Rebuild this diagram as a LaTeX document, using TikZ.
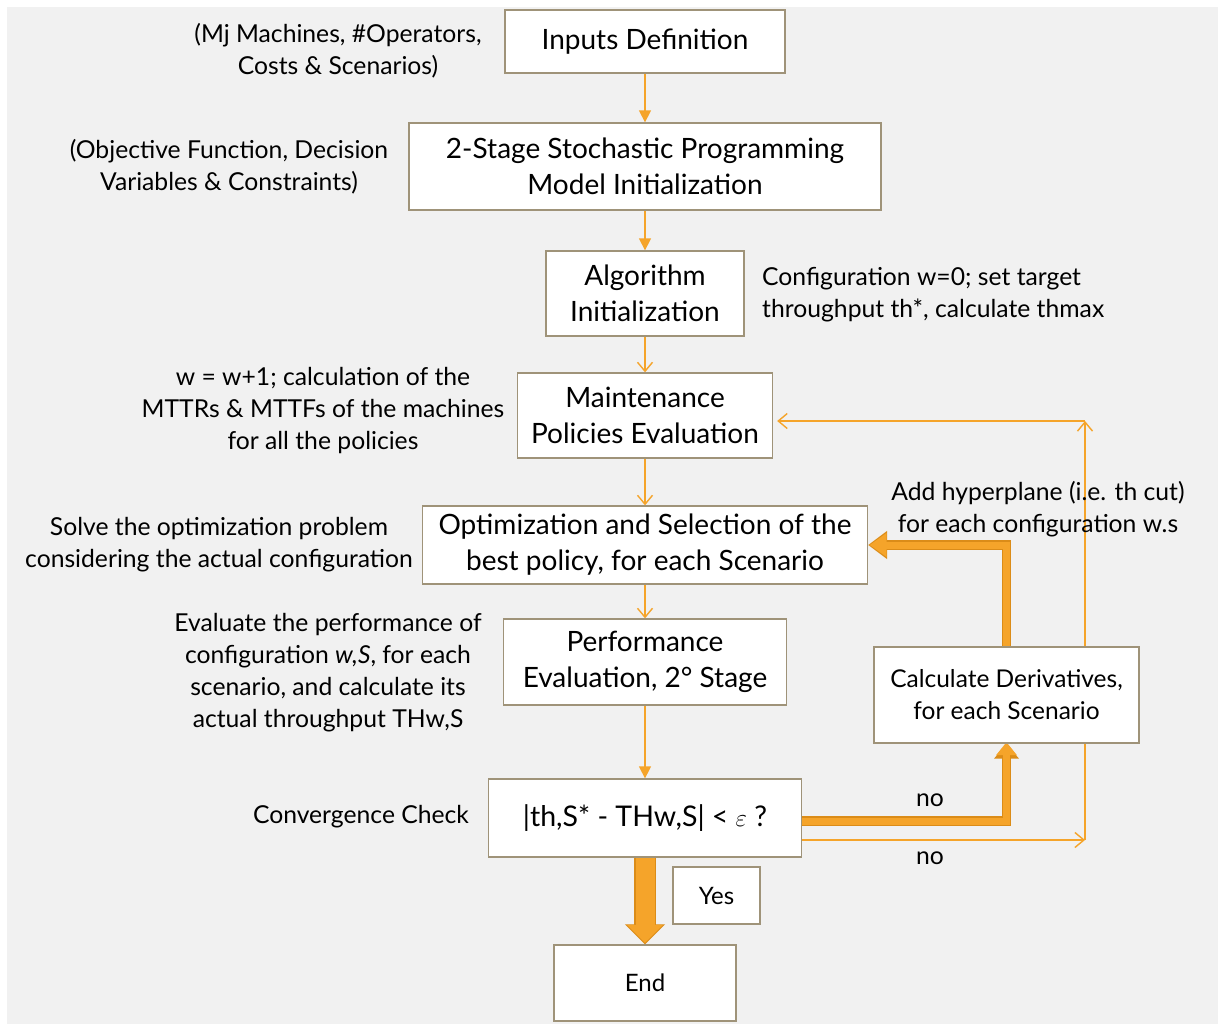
\documentclass[tikz,border=0pt]{standalone}
\usepackage{fontspec}
\setmainfont{Lato}
\usetikzlibrary{arrows.meta,calc}
\definecolor{pagegray}{HTML}{F1F1F1}
\definecolor{boxline}{HTML}{9F9379}
\definecolor{flow}{HTML}{F5A42A}
\definecolor{flowdark}{HTML}{DB8C18}
\pgfdeclarelayer{canvas}
\pgfdeclarelayer{wires}
\pgfsetlayers{canvas,wires,main}

\begin{document}
\begin{tikzpicture}[x=1pt,y=-1pt,
  box/.style={draw=boxline,line width=1.3pt,fill=white,align=center,inner sep=0pt,
    font=\fontsize{28}{36}\selectfont},
  note/.style={align=center,inner sep=0pt,font=\fontsize{24.7}{32}\selectfont},
  thinflow/.style={draw=flow,line width=1.4pt},
  fillhead/.style={-{Triangle[length=12pt,width=12pt]}},
  openhead/.style={-{Straight Barb[length=9pt,width=15pt]}},
]
\useasboundingbox (0,0) rectangle (1218,1025);
\begin{pgfonlayer}{canvas}
  \fill[pagegray] (7,7) rectangle (1218,1024);
\end{pgfonlayer}

% main column of process boxes
\node[box,minimum width=280pt,minimum height=63pt] (inputs) at (645,41.5) {Inputs Definition};
\node[box,minimum width=472pt,minimum height=87pt] (stage) at (645,166.5)
  {2-Stage Stochastic Programming\\Model Initialization};
\node[box,minimum width=198pt,minimum height=85pt] (algo) at (645,293.5)
  {Algorithm\\Initialization};
\node[box,minimum width=255pt,minimum height=85pt] (maint) at (645,415.5)
  {Maintenance\\Policies Evaluation};
\node[box,minimum width=445pt,minimum height=78pt] (optim) at (645,545)
  {Optimization and Selection of the\\best policy, for each Scenario};
\node[box,minimum width=283pt,minimum height=86pt] (perf) at (645,662)
  {Performance\\Evaluation, 2\textdegree\ Stage};
\node[box,minimum width=313pt,minimum height=78pt,font=\fontsize{28.5}{36}\selectfont] (conv) at (645,818)
  {|th,S* - THw,S| < $\varepsilon$ ?};
\node[box,minimum width=87pt,minimum height=57pt,font=\fontsize{24}{30}\selectfont] (yes) at (716.5,895.5) {Yes};
\node[box,minimum width=182pt,minimum height=76pt,font=\fontsize{24}{30}\selectfont] (end) at (645,983) {End};
\node[box,minimum width=265pt,minimum height=96pt,font=\fontsize{24.5}{32}\selectfont] (deriv) at (1006.5,695)
  {Calculate Derivatives,\\for each Scenario};

% side annotations
\node[note] (inputsnote) at (338,51) {(Mj Machines, \#Operators,\\Costs \& Scenarios)};
\node[note] (stagenote) at (229,167) {(Objective Function, Decision\\Variables \& Constraints)};
\node[note,align=left,anchor=west] (algonote) at (762,295)
  {Configuration w=0; set target\\throughput th*, calculate thmax};
\node[note] (maintnote) at (323,411)
  {w = w+1; calculation of the\\MTTRs \& MTTFs of the machines\\for all the policies};
\node[note] (optimnote) at (219,545)
  {Solve the optimization problem\\considering the actual configuration};
\node[note] (perfnote) at (328,673)
  {Evaluate the performance of\\configuration \textit{w,S}, for each\\scenario, and calculate its\\actual throughput THw,S};
\node[note] (convnote) at (361,817) {Convergence Check};
\node[note] (cutnote) at (1038,509)
  {Add hyperplane (i.e. th cut)\\for each configuration w.s};
\node[note] (noupper) at (930,800) {no};
\node[note] (nolower) at (930,858) {no};

% connectors
\coordinate (loopA) at (1085,840);
\coordinate (loopB) at (1085,421);
\begin{pgfonlayer}{wires}
  \draw[thinflow,fillhead] (inputs.south) -- (inputs.south |- stage.north);
  \draw[thinflow,fillhead] (stage.south) -- (stage.south |- algo.north);
  \draw[thinflow,openhead] (algo.south) -- (algo.south |- maint.north);
  \draw[thinflow,openhead] (maint.south) -- (maint.south |- optim.north);
  \draw[thinflow,openhead] (optim.south) -- (optim.south |- perf.north);
  \draw[thinflow,fillhead] (perf.south) -- (perf.south |- conv.north);

  \draw[thinflow,openhead] (conv.east |- loopA) -- (loopA);
  \draw[thinflow,openhead] (loopA) -- (loopB);
  \draw[thinflow,openhead] (loopB) -- ($(maint.east |- loopB)+(4,0)$);

  % thick flows
  \draw[flowdark,line width=9.5pt,-{Triangle[length=15pt,width=24pt]}]
    ($(conv.east)+(0,3)$) -| (deriv.south);
  \draw[flow,line width=7pt,-{Triangle[length=13pt,width=20pt]}]
    ($(conv.east)+(0,3)$) -| ($(deriv.south)+(0,-1.5)$);
  \draw[flowdark,line width=9.5pt,-{Triangle[length=19pt,width=27pt]}]
    (deriv.north) |- (optim.east);
  \draw[flow,line width=7pt,-{Triangle[length=17pt,width=23pt]}]
    (deriv.north) |- ($(optim.east)+(1.5,0)$);
  \draw[flowdark,line width=21.5pt,-{Triangle[length=20pt,width=39pt]}]
    (conv.south) -- (end.north);
  \draw[flow,line width=19pt,-{Triangle[length=18pt,width=35pt]}]
    (conv.south) -- ($(end.north)+(0,-1.5)$);
\end{pgfonlayer}
\end{tikzpicture}
\end{document}
